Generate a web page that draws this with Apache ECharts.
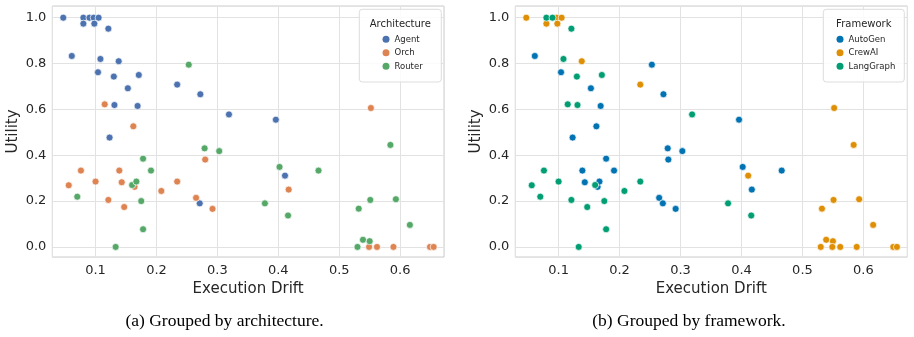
<!DOCTYPE html>
<html>
<head>
<meta charset="utf-8">
<script src="https://cdn.jsdelivr.net/npm/echarts@6/dist/echarts.min.js"></script>
<style>
  html, body { margin: 0; padding: 0; background: #fff; }
  #main { width: 914px; height: 337px; }
</style>
</head>
<body>
<div id="main"></div>
<script>
// data: one entry per run
var drift = [0.047, 0.080, 0.090, 0.097, 0.105, 0.080, 0.098, 0.121, 0.061, 0.108,
  0.138, 0.104, 0.130, 0.171, 0.153, 0.234, 0.253, 0.272, 0.115, 0.131,
  0.169, 0.162, 0.123, 0.319, 0.396, 0.552, 0.584, 0.279, 0.303, 0.056,
  0.076, 0.070, 0.100, 0.121, 0.139, 0.143, 0.147, 0.133, 0.160, 0.164,
  0.167, 0.175, 0.178, 0.178, 0.191, 0.208, 0.234, 0.265, 0.271, 0.292,
  0.280, 0.402, 0.411, 0.466, 0.417, 0.378, 0.416, 0.532, 0.551, 0.593,
  0.616, 0.539, 0.550, 0.530, 0.549, 0.562, 0.589, 0.649, 0.655];
var utility = [1.0, 1.0, 1.0, 1.0, 1.0, 0.974, 0.974, 0.952, 0.833, 0.820,
  0.810, 0.762, 0.743, 0.750, 0.692, 0.708, 0.795, 0.666, 0.622, 0.619,
  0.615, 0.526, 0.477, 0.578, 0.555, 0.606, 0.445, 0.430, 0.418, 0.269,
  0.333, 0.219, 0.285, 0.205, 0.333, 0.282, 0.174, 0.0, 0.270, 0.262,
  0.285, 0.200, 0.385, 0.077, 0.333, 0.244, 0.285, 0.214, 0.190, 0.166,
  0.381, 0.349, 0.311, 0.333, 0.250, 0.190, 0.137, 0.167, 0.205, 0.208,
  0.096, 0.031, 0.025, 0.0, 0.0, 0.0, 0.0, 0.0, 0.0];
var arch = ['Agent','Agent','Agent','Agent','Agent','Agent','Agent','Agent','Agent','Agent',
  'Agent','Agent','Agent','Agent','Agent','Agent','Router','Agent','Orch','Agent',
  'Agent','Orch','Agent','Agent','Agent','Orch','Router','Router','Router','Orch',
  'Orch','Router','Orch','Orch','Orch','Orch','Orch','Router','Router','Orch',
  'Router','Router','Router','Router','Router','Orch','Orch','Orch','Agent','Orch',
  'Orch','Router','Agent','Router','Orch','Router','Router','Router','Router','Router',
  'Router','Router','Router','Router','Orch','Orch','Orch','Orch','Orch'];
var framework = ['CrewAI','LangGraph','LangGraph','CrewAI','CrewAI','CrewAI','CrewAI','LangGraph','AutoGen','LangGraph',
  'CrewAI','AutoGen','LangGraph','LangGraph','AutoGen','CrewAI','AutoGen','AutoGen','LangGraph','LangGraph',
  'AutoGen','AutoGen','AutoGen','LangGraph','AutoGen','CrewAI','CrewAI','AutoGen','AutoGen','LangGraph',
  'LangGraph','LangGraph','LangGraph','LangGraph','AutoGen','AutoGen','LangGraph','LangGraph','LangGraph','AutoGen',
  'AutoGen','LangGraph','AutoGen','LangGraph','AutoGen','LangGraph','LangGraph','AutoGen','AutoGen','AutoGen',
  'AutoGen','AutoGen','CrewAI','AutoGen','AutoGen','LangGraph','LangGraph','CrewAI','CrewAI','CrewAI',
  'CrewAI','CrewAI','CrewAI','CrewAI','CrewAI','CrewAI','CrewAI','CrewAI','CrewAI'];

var archNames = ['Agent', 'Orch', 'Router'];
var archColors = ['#4c72b0', '#dd8452', '#55a868'];
var frameworkNames = ['AutoGen', 'CrewAI', 'LangGraph'];
var frameworkColors = ['#0173b2', '#de8f05', '#029e73'];

var myChart = echarts.init(document.getElementById('main'));

var txt = '#262626';
var font = 'DejaVu Sans';

function pick(groups, name) {
    var out = [];
    for (var i = 0; i < drift.length; i++) {
        if (groups[i] === name) out.push([drift[i], utility[i]]);
    }
    return out;
}

function makeSeries(names, colors, groups, idx) {
    return names.map(function (n, k) {
        return {
            name: n,
            type: 'scatter',
            xAxisIndex: idx,
            yAxisIndex: idx,
            symbolSize: 7,
            itemStyle: { color: colors[k], borderColor: '#fff', borderWidth: 0.7, opacity: 1 },
            emphasis: { disabled: true },
            data: pick(groups, n)
        };
    });
}

function xAx(idx) {
    return {
        gridIndex: idx,
        type: 'value',
        min: 0.029, max: 0.672,
        name: 'Execution Drift',
        nameLocation: 'middle',
        nameGap: 24,
        nameTextStyle: { fontFamily: font, fontSize: 15, color: txt },
        axisLine: { show: false },
        axisTick: { show: false },
        axisLabel: { fontFamily: font, fontSize: 13, color: txt, margin: 7,
            showMinLabel: false, showMaxLabel: false },
        splitLine: { lineStyle: { color: '#e2e2e2', width: 1 } }
    };
}
function yAx(idx) {
    return {
        gridIndex: idx,
        type: 'value',
        min: -0.044, max: 1.051,
        name: 'Utility',
        nameLocation: 'middle',
        nameGap: 32,
        nameTextStyle: { fontFamily: font, fontSize: 15, color: txt },
        axisLine: { show: false },
        axisTick: { show: false },
        axisLabel: { fontFamily: font, fontSize: 13, color: txt, margin: 6,
            showMinLabel: false, showMaxLabel: false,
            formatter: function (v) { return v.toFixed(1); } },
        splitLine: { lineStyle: { color: '#e2e2e2', width: 1 } }
    };
}

function legendOf(names, left) {
    return {
        data: names.map(function (n) {
            return { name: n, itemStyle: { borderWidth: 0 } };
        }),
        orient: 'vertical',
        left: left, top: 34.3,
        padding: 0,
        z: 10,
        itemWidth: 7, itemHeight: 7, itemGap: 3.5,
        icon: 'circle',
        selectedMode: false,
        textStyle: { fontFamily: font, fontSize: 8.5, lineHeight: 10, color: txt }
    };
}

function legendBox(x, w, title) {
    return [{
        type: 'rect', z: 3,
        shape: { x: x, y: 9.3, width: w, height: 72.7, r: 3 },
        style: { fill: 'rgba(255,255,255,0.85)', stroke: '#dddddd', lineWidth: 1 }
    }, {
        type: 'text', z: 10,
        x: x + w / 2, y: 24.7,
        style: { text: title, fontFamily: font, fontSize: 10, fill: txt,
            align: 'center', verticalAlign: 'middle' }
    }];
}

function caption(x, text) {
    return {
        type: 'text', x: x, y: 321.7,
        style: { text: text, fontFamily: 'Liberation Serif', fontSize: 17.5, fill: '#000',
            align: 'center', verticalAlign: 'middle' }
    };
}

var option = {
    animation: false,
    grid: [
        { left: 52.3, top: 6, width: 391.7, height: 251, show: true, borderColor: '#cccccc', borderWidth: 1, backgroundColor: '#fff' },
        { left: 515.3, top: 6, width: 392, height: 251, show: true, borderColor: '#cccccc', borderWidth: 1, backgroundColor: '#fff' }
    ],
    xAxis: [xAx(0), xAx(1)],
    yAxis: [yAx(0), yAx(1)],
    legend: [legendOf(archNames, 382.5), legendOf(frameworkNames, 836.5)],
    graphic: [].concat(
        legendBox(359.3, 82, 'Architecture'),
        legendBox(823.3, 81, 'Framework'),
        [caption(224.5, '(a) Grouped by architecture.'), caption(689, '(b) Grouped by framework.')]
    ),
    series: makeSeries(archNames, archColors, arch, 0)
        .concat(makeSeries(frameworkNames, frameworkColors, framework, 1))
};

myChart.setOption(option);
</script>
</body>
</html>
